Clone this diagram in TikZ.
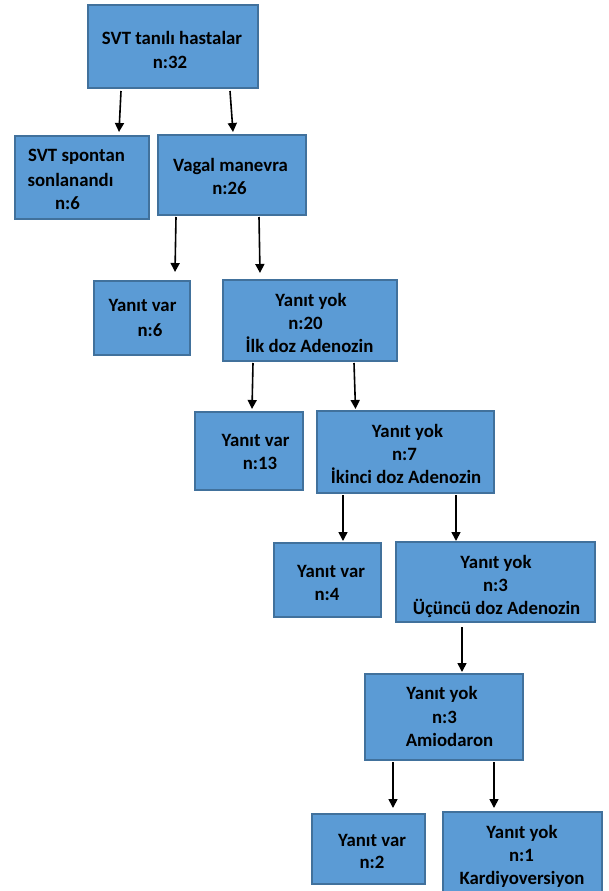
\documentclass[tikz,border=0pt]{standalone}
\usepackage{fontspec}
\setmainfont{Carlito}
\usetikzlibrary{arrows.meta}
\definecolor{boxfill}{HTML}{5B9BD5}
\definecolor{boxline}{HTML}{41719C}
\tikzset{
  box/.style={draw=boxline, fill=boxfill, line width=1.5pt, rectangle, inner sep=0pt, outer sep=0pt},
  txt/.style={anchor=base, inner sep=0pt, font=\fontsize{18.8}{22}\selectfont\bfseries, text=black},
  arr/.style={draw=black, line width=1.6pt, -{Triangle[length=9pt,width=9pt]}}
}
\newcommand{\mybox}[5]{% name, x1, y1, x2, y2
  \node[box, minimum width={(#4)-(#2)}, minimum height={(#5)-(#3)}] (#1) at ({((#2)+(#4))/2},{((#3)+(#5))/2}) {};}
\newcommand{\mytxt}[4]{% name, cx, cy, text
  \node[txt] (#1) at (#2,{(#3)+6.5}) {#4};}
\begin{document}
\begin{tikzpicture}[x=1pt,y=-1pt]
\useasboundingbox (0,0) rectangle (608,891);
\fill[white] (0,0) rectangle (608,891);
\clip (0,0) rectangle (608,891);
% boxes
\mybox{b1}{88}{5}{258}{88}
\mybox{b2}{15}{136}{149}{219}
\mybox{b3}{158}{135}{306}{215}
\mybox{b4}{94}{281}{190}{355}
\mybox{b5}{223}{280}{397}{361}
\mybox{b6}{195}{412}{303}{490}
\mybox{b7}{317}{411}{494}{493}
\mybox{b8}{274}{543}{381}{617}
\mybox{b9}{396}{542}{595}{622}
\mybox{b10}{365}{674}{523}{760}
\mybox{b11}{312}{814}{425}{884}
\mybox{b12}{443}{812}{602}{905}
% texts
\mytxt{t1a}{172}{38}{SVT tanılı hastalar}
\mytxt{t1b}{170}{62}{n:32}
\mytxt{t2a}{76.5}{155}{SVT spontan}
\mytxt{t2b}{70.5}{180}{sonlanandı}
\mytxt{t2c}{67.5}{203}{n:6}
\mytxt{t3a}{230.5}{165}{Vagal manevra}
\mytxt{t3b}{229.5}{188}{n:26}
\mytxt{t4a}{142.5}{305}{Yanıt var}
\mytxt{t4b}{150}{330}{n:6}
\mytxt{t5a}{311}{300}{Yanıt yok}
\mytxt{t5b}{305.5}{323}{n:20}
\mytxt{t5c}{309.5}{346}{İlk doz Adenozin}
\mytxt{t6a}{255.5}{440}{Yanıt var}
\mytxt{t6b}{260}{463}{n:13}
\mytxt{t7a}{407.5}{431}{Yanıt yok}
\mytxt{t7b}{404.5}{454}{n:7}
\mytxt{t7c}{406}{477}{İkinci doz Adenozin}
\mytxt{t8a}{331}{571}{Yanıt var}
\mytxt{t8b}{327}{594}{n:4}
\mytxt{t9a}{496}{562}{Yanıt yok}
\mytxt{t9b}{495.5}{585}{n:3}
\mytxt{t9c}{496.5}{608}{Üçüncü doz Adenozin}
\mytxt{t10a}{442}{693}{Yanıt yok}
\mytxt{t10b}{444.5}{717}{n:3}
\mytxt{t10c}{449.5}{740}{Amiodaron}
\mytxt{t11a}{372}{840}{Yanıt var}
\mytxt{t11b}{372}{862}{n:2}
\mytxt{t12a}{522}{832}{Yanıt yok}
\mytxt{t12b}{521.5}{855}{n:1}
\mytxt{t12c}{522}{878}{Kardiyoversiyon}
% arrows
\draw[arr] ([shift={(33,3)}]b1.south west) -- ([shift={(104,-4)}]b2.north west);
\draw[arr] ([shift={(142,3)}]b1.south west) -- ([shift={(75,-3)}]b3.north west);
\draw[arr] ([shift={(18,2)}]b3.south west) -- ([shift={(81,-9)}]b4.north west);
\draw[arr] ([shift={(101,2)}]b3.south west) -- ([shift={(37,-7)}]b5.north west);
\draw[arr] ([shift={(30,2)}]b5.south west) -- ([shift={(57,-3)}]b6.north west);
\draw[arr] ([shift={(131,2)}]b5.south west) -- ([shift={(38.5,-2)}]b7.north west);
\draw[arr] ([shift={(26,2)}]b7.south west) -- ([shift={(69,-2)}]b8.north west);
\draw[arr] ([shift={(139,2)}]b7.south west) -- ([shift={(60,-1)}]b9.north west);
\draw[arr] ([shift={(66,5)}]b9.south west) -- ([shift={(97,-2)}]b10.north west);
\draw[arr] ([shift={(28,2)}]b10.south west) -- ([shift={(81,-6)}]b11.north west);
\draw[arr] ([shift={(129,2)}]b10.south west) -- ([shift={(51,-4)}]b12.north west);
\end{tikzpicture}
\end{document}
